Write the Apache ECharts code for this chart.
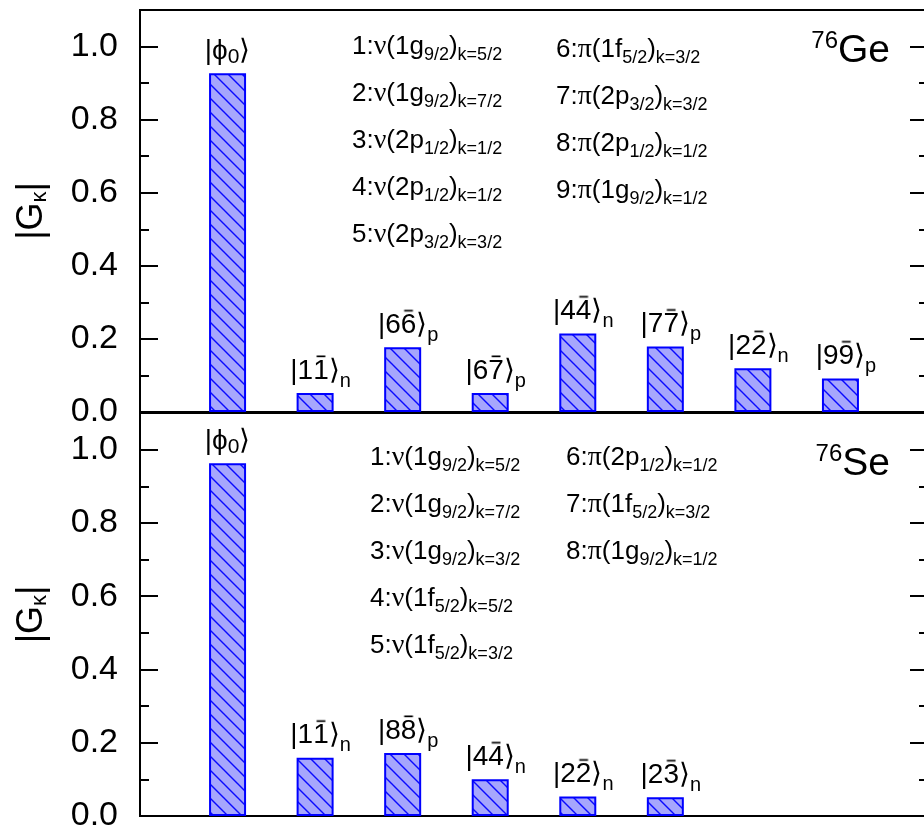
<!DOCTYPE html>
<html>
<head>
<meta charset="utf-8">
<script src="https://cdn.jsdelivr.net/npm/echarts@6/dist/echarts.min.js"></script>
<style>
  html, body { margin: 0; padding: 0; background: #fff; }
  #chart { width: 924px; height: 829px; }
</style>
</head>
<body>
<div id="chart"></div>
<script>
// ---- 76Ge panel ----
// each ket is written as [first index, barred index]
const geKets   = [['ϕ', '0'], ['1', '1'], ['6', '6'], ['6', '7'], ['4', '4'], ['7', '7'], ['2', '2'], ['9', '9']];
const geSubs   = ['', 'n', 'p', 'p', 'n', 'p', 'n', 'p'];
const geValues = [0.927, 0.052, 0.177, 0.052, 0.215, 0.179, 0.120, 0.092];
const geOrbitals = [
  ['1', 'ν', '1g', '9/2', '5/2'],
  ['2', 'ν', '1g', '9/2', '7/2'],
  ['3', 'ν', '2p', '1/2', '1/2'],
  ['4', 'ν', '2p', '1/2', '1/2'],
  ['5', 'ν', '2p', '3/2', '3/2'],
  ['6', 'π', '1f', '5/2', '3/2'],
  ['7', 'π', '2p', '3/2', '3/2'],
  ['8', 'π', '2p', '1/2', '1/2'],
  ['9', 'π', '1g', '9/2', '1/2']
];

// ---- 76Se panel ----
const seKets   = [['ϕ', '0'], ['1', '1'], ['8', '8'], ['4', '4'], ['2', '2'], ['2', '3']];
const seSubs   = ['', 'n', 'p', 'n', 'n', 'n'];
const seValues = [0.963, 0.159, 0.172, 0.100, 0.053, 0.051];
const seOrbitals = [
  ['1', 'ν', '1g', '9/2', '5/2'],
  ['2', 'ν', '1g', '9/2', '7/2'],
  ['3', 'ν', '1g', '9/2', '3/2'],
  ['4', 'ν', '1f', '5/2', '5/2'],
  ['5', 'ν', '1f', '5/2', '3/2'],
  ['6', 'π', '2p', '1/2', '1/2'],
  ['7', 'π', '1f', '5/2', '3/2'],
  ['8', 'π', '1g', '9/2', '1/2']
];

const yTicks = [0, 0.2, 0.4, 0.6, 0.8, 1.0];

const SANS = 'Liberation Sans';
const SERIF = 'Liberation Serif';
const KET_SIZE = 28;
const DIGIT_W = KET_SIZE * 0.556;   // advance width of a digit in Liberation Sans

// diagonal hatch tile for the bars
function hatchTile() {
  const n = 14;
  const c = document.createElement('canvas');
  c.width = n; c.height = n;
  const g = c.getContext('2d');
  g.fillStyle = '#a6a6fd';
  g.fillRect(0, 0, n, n);
  g.strokeStyle = '#0a0aff';
  g.lineWidth = 1.4;
  g.beginPath();
  g.moveTo(-2, -2); g.lineTo(n + 2, n + 2);
  g.moveTo(-2, n - 2); g.lineTo(2, n + 2);
  g.moveTo(n - 2, -2); g.lineTo(n + 2, 2);
  g.stroke();
  return c;
}
const hatch = { image: hatchTile(), repeat: 'repeat' };

// small bar drawn above the conjugate index of a ket
function overlineTile() {
  const c = document.createElement('canvas');
  c.width = 16; c.height = 34;
  const g = c.getContext('2d');
  g.fillStyle = '#000';
  g.fillRect(3.5, 1.5, 9, 1.7);
  return c;
}
const overline = { image: overlineTile() };

function ketLabel(ket, sub) {
  if (ket[0] === 'ϕ') return '{m||ϕ}{z|' + ket[1] + '}{m|⟩}';
  return '{pad|}{m||' + ket[0] + '}{b|' + ket[1] + '}{m|⟩}{s|' + sub + '}';
}

function orbitalLine(o) {
  return '{n|' + o[0] + ':}{g|' + o[1] + '}{n|(' + o[2] + '}{s|' + o[3] + '}{n|)}{s|k=' + o[4] + '}';
}

const barRich = {
  m:   { fontFamily: SANS, fontSize: KET_SIZE, lineHeight: 34, color: '#000' },
  b:   { fontFamily: SANS, fontSize: KET_SIZE, lineHeight: 34, height: 34, width: DIGIT_W, color: '#000', backgroundColor: overline },
  s:   { fontFamily: SANS, fontSize: 20, lineHeight: 34, color: '#000', padding: [20, 0, 0, 0] },
  z:   { fontFamily: SANS, fontSize: 21, lineHeight: 34, color: '#000', padding: [12, 0, 0, 0] },
  pad: { width: 11 }
};

const textRich = {
  n: { fontFamily: SANS, fontSize: 26, lineHeight: 32, fill: '#000' },
  g: { fontFamily: SERIF, fontSize: 28, lineHeight: 32, fill: '#000' },
  s: { fontFamily: SANS, fontSize: 18, lineHeight: 32, fill: '#000', padding: [16, 0, 0, 0] }
};

function yAxesFor(gridIndex) {
  const base = {
    type: 'value', gridIndex, min: 0, max: 1.1,
    splitLine: { show: false }, axisLine: { show: false }
  };
  const tick = len => ({ show: true, inside: true, length: len, lineStyle: { color: '#000', width: 2 } });
  return [
    Object.assign({}, base, {
      position: 'left', interval: 0.2, axisTick: tick(18),
      axisLabel: {
        show: true, margin: 22, color: '#000', fontFamily: SANS, fontSize: 34,
        formatter: v => (yTicks.some(t => Math.abs(t - v) < 1e-6) ? v.toFixed(1) : '')
      },
      name: '{a||G}{k|κ}{a||}', nameLocation: 'middle', nameGap: 88,
      nameTextStyle: {
        rich: {
          a: { fontFamily: SANS, fontSize: 36, lineHeight: 40, color: '#000' },
          k: { fontFamily: SANS, fontSize: 22, lineHeight: 40, color: '#000', padding: [16, 0, 0, 0] }
        }
      }
    }),
    Object.assign({}, base, { position: 'left', interval: 0.1, axisTick: tick(9), axisLabel: { show: false } }),
    Object.assign({}, base, { position: 'right', interval: 0.2, axisTick: tick(18), axisLabel: { show: false } }),
    Object.assign({}, base, { position: 'right', interval: 0.1, axisTick: tick(9), axisLabel: { show: false } })
  ];
}

function barSeries(gridAxis, values, kets, subs) {
  return {
    type: 'bar',
    xAxisIndex: gridAxis, yAxisIndex: gridAxis * 4,
    barWidth: 37,
    data: values.map((v, i) => [i + 1, v]),
    itemStyle: { color: hatch, borderColor: '#0000ff', borderWidth: 2 },
    label: {
      show: true, position: 'top', distance: 5,
      formatter: p => ketLabel(kets[p.dataIndex], subs[p.dataIndex]),
      rich: barRich
    },
    silent: true
  };
}

function legendBlock(list, colStart, x1, x2, y0, dy, dy2) {
  return list.map((o, i) => {
    const second = i >= colStart;
    const row = second ? i - colStart : i;
    return {
      type: 'text',
      x: second ? x2 : x1,
      y: y0 + row * dy + (second ? dy2 : 0),
      style: { text: orbitalLine(o), rich: textRich, align: 'left', verticalAlign: 'middle' },
      silent: true
    };
  });
}

function nucleusLabel(mass, sym, y) {
  return {
    type: 'text', x: 890, y,
    style: {
      text: '{p|' + mass + '}{e|' + sym + '}',
      align: 'right', verticalAlign: 'middle',
      rich: {
        p: { fontFamily: SANS, fontSize: 24, lineHeight: 46, fill: '#000', padding: [0, 0, 20, 0] },
        e: { fontFamily: SANS, fontSize: 39, lineHeight: 46, fill: '#000' }
      }
    },
    silent: true
  };
}

const gridBase = {
  left: 140, width: 788, show: true, borderColor: '#000', borderWidth: 2,
  backgroundColor: 'transparent', containLabel: false, outerBoundsMode: 'none'
};

const chart = echarts.init(document.getElementById('chart'), null, { renderer: 'canvas' });
chart.setOption({
  animation: false,
  backgroundColor: '#fff',
  grid: [
    Object.assign({}, gridBase, { top: 10, height: 402 }),
    Object.assign({}, gridBase, { top: 413, height: 403 })
  ],
  xAxis: [
    { type: 'value', gridIndex: 0, min: 0, max: 9, show: false },
    { type: 'value', gridIndex: 1, min: 0, max: 9, show: false }
  ],
  yAxis: [].concat(yAxesFor(0), yAxesFor(1)),
  series: [
    barSeries(0, geValues, geKets, geSubs),
    barSeries(1, seValues, seKets, seSubs)
  ],
  graphic: [].concat(
    legendBlock(geOrbitals, 5, 352, 556, 47, 47, 3),
    legendBlock(seOrbitals, 5, 370, 566, 458, 47, 0),
    [nucleusLabel('76', 'Ge', 51), nucleusLabel('76', 'Se', 464)]
  )
});
</script>
</body>
</html>
